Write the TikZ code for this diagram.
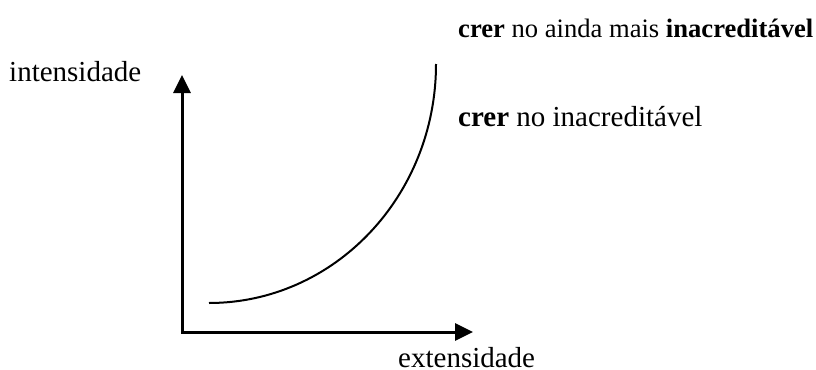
\documentclass[tikz,border=0pt]{standalone}
\usepackage{fontspec}
\setmainfont{Liberation Serif}
\usetikzlibrary{arrows.meta}
\begin{document}
\begin{tikzpicture}[x=1bp,y=1bp,
  axis/.style={line width=3bp,-{Triangle[length=18bp,width=17bp]}},
  curve/.style={line width=2bp},
  lbl/.style={inner sep=0pt,font=\fontsize{29bp}{34bp}\selectfont}]
\useasboundingbox (0,0) rectangle (816,369);
\coordinate (O) at (182,37);
\coordinate (Ytip) at (182,294);
\coordinate (Xtip) at (473,37);
\coordinate (Cs) at (209,66);
\draw[axis] ([yshift=-1.5bp]O) -- (Ytip);
\draw[axis] (O) -- (Xtip);
\draw[curve] (Cs) arc[start angle=270,end angle=360,x radius=227,y radius=239];
\node[lbl,anchor=west] (int) at (9,297) {intensidade};
\node[lbl,anchor=west,font=\fontsize{26.6bp}{32bp}\selectfont] (top) at (458,341) {\textbf{crer} no ainda mais \textbf{inacreditável}};
\node[lbl,anchor=west] (mid) at (458,252) {\textbf{crer} no inacreditável};
\node[lbl,anchor=west] (ext) at (398,11) {extensidade};
\end{tikzpicture}
\end{document}
